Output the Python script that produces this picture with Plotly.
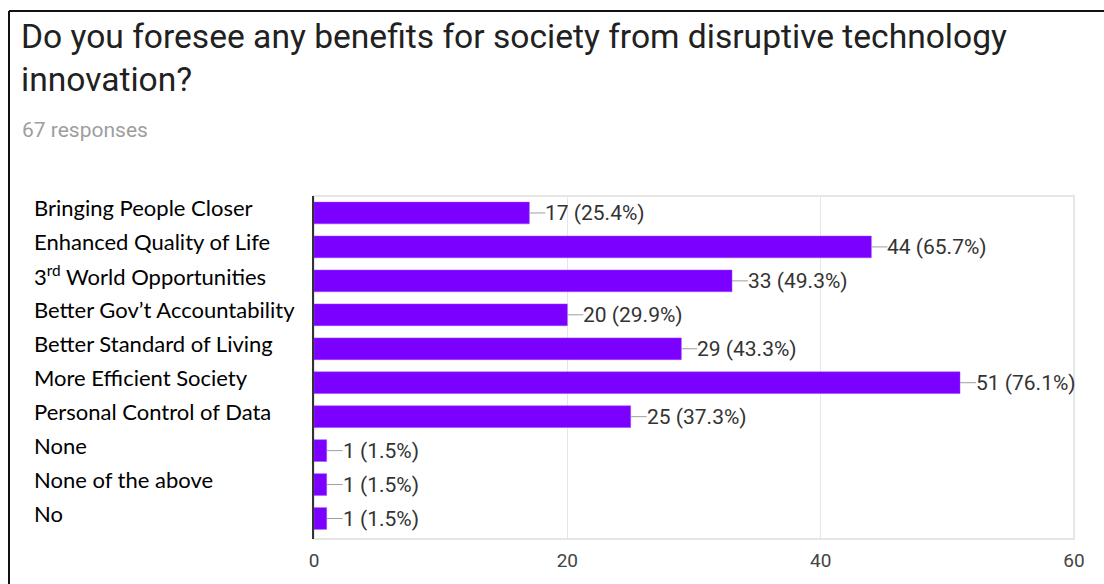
import plotly.graph_objects as go

# Survey answers, top to bottom
categories = [
    "Bringing People Closer",
    "Enhanced Quality of Life",
    "3rd World Opportunities",
    "Better Gov't Accountability",
    "Better Standard of Living",
    "More Efficient Society",
    "Personal Control of Data",
    "None",
    "None of the above",
    "No",
]
tick_labels = [
    "Bringing People Closer",
    "Enhanced Quality of Life",
    "3<sup>rd</sup> World Opportunities",
    "Better Gov\u2019t Accountability",
    "Better Standard of Living",
    "More Efficient Society",
    "Personal Control of Data",
    "None",
    "None of the above",
    "No",
]
counts = [17, 44, 33, 20, 29, 51, 25, 1, 1, 1]
percents = [25.4, 65.7, 49.3, 29.9, 43.3, 76.1, 37.3, 1.5, 1.5, 1.5]
total_responses = 67

W, H = 1104, 584
L, R, T, B = 314, 30, 196, 45
PW, PH = W - L - R, H - T - B


def px_x(x):
    return (x - L) / PW


def px_y(y):
    return (H - B - y) / PH


fig = go.Figure(
    go.Bar(
        x=counts,
        y=categories,
        orientation="h",
        marker=dict(color="#7b00ff", line=dict(color="#9a44ff", width=0.5)),
        width=0.64,
        hoverinfo="skip",
    )
)

annotations = []
shapes = []

# Title and subtitle
title_font = dict(family="Roboto", size=33.6, color="#212121")
annotations.append(dict(
    text="Do you foresee any benefits for society from disruptive technology",
    xref="paper", yref="paper", x=px_x(19), y=px_y(36), xanchor="left", yanchor="middle",
    showarrow=False, font=title_font,
))
annotations.append(dict(
    text="innovation?",
    xref="paper", yref="paper", x=px_x(19), y=px_y(80), xanchor="left", yanchor="middle",
    showarrow=False, font=title_font,
))
annotations.append(dict(
    text=f"{total_responses} responses",
    xref="paper", yref="paper", x=px_x(20), y=px_y(130), xanchor="left", yanchor="middle",
    showarrow=False, font=dict(family="Roboto", size=21, color="#9e9e9e"),
))

# Left-aligned category labels and value labels with leader lines
for cat, lab, c, p in zip(categories, tick_labels, counts, percents):
    annotations.append(dict(
        text=lab, xref="paper", yref="y", x=px_x(32), y=cat, xanchor="left", yanchor="middle",
        yshift=5, showarrow=False, font=dict(family="Lato", size=22, color="#000000"),
    ))
    annotations.append(dict(
        text=f"{c} ({p}%)", xref="x", yref="y", x=c, y=cat, xanchor="left", yanchor="middle",
        xshift=14, showarrow=False, font=dict(family="Roboto", size=21, color="#333333"),
    ))
    shapes.append(dict(
        type="line", xref="x", yref="y", xsizemode="pixel", xanchor=c,
        x0=0, x1=16, y0=cat, y1=cat, line=dict(color="#9e9e9e", width=1),
    ))

# Light frame around the plotting area
shapes.append(dict(
    type="rect", xref="paper", yref="paper", x0=0, x1=1, y0=0, y1=1,
    line=dict(color="#e6e6e6", width=2), layer="below",
))
# Outer border of the card: top and left edges
shapes.append(dict(
    type="line", xref="paper", yref="paper", x0=px_x(9), x1=px_x(1110), y0=px_y(11), y1=px_y(11),
    line=dict(color="#111111", width=2),
))
shapes.append(dict(
    type="line", xref="paper", yref="paper", x0=px_x(9), x1=px_x(9), y0=px_y(11), y1=px_y(590),
    line=dict(color="#111111", width=2),
))

fig.update_layout(
    width=W, height=H,
    margin=dict(l=L, r=R, t=T, b=B),
    paper_bgcolor="white", plot_bgcolor="white",
    showlegend=False,
    annotations=annotations,
    shapes=shapes,
    xaxis=dict(
        range=[0, 60], tickvals=[0, 20, 40, 60], showgrid=True, gridcolor="#e6e6e6", gridwidth=1,
        zeroline=False, showline=False, ticks="", ticklen=0, ticklabelstandoff=8,
        tickfont=dict(family="Roboto", size=19, color="#444444"),
    ),
    yaxis=dict(
        categoryorder="array", categoryarray=categories, autorange="reversed",
        showticklabels=False, showgrid=False, zeroline=False, showline=True,
        linecolor="#333333", linewidth=2, ticks="",
    ),
)

fig.write_html("out.html")
